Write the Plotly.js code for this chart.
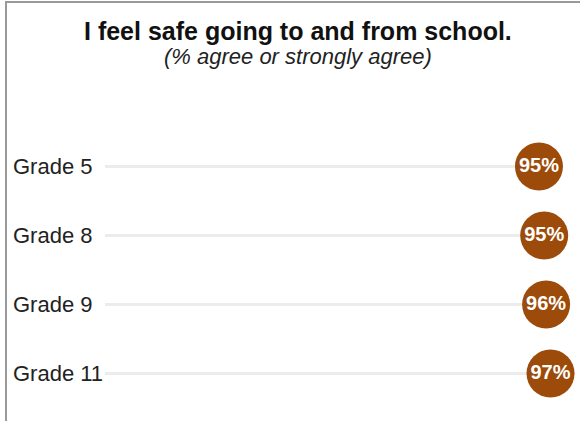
<!DOCTYPE html>
<html>
<head>
<meta charset="utf-8">
<script src="https://cdn.plot.ly/plotly-3.0.1.min.js"></script>
<style>
  html, body { margin: 0; padding: 0; background: #fff; }
  #wrap { position: relative; width: 580px; height: 421px; }
  #chart { width: 580px; height: 421px; }
  #frame { position: absolute; left: 5px; top: 1px; right: 0; bottom: 0;
           border-left: 2px solid #9a9a9a; border-top: 2px solid #9a9a9a;
           pointer-events: none; }
</style>
</head>
<body>
<div id="wrap">
  <div id="chart"></div>
  <div id="frame"></div>
</div>
<script>
const grades = ["Grade 5", "Grade 8", "Grade 9", "Grade 11"];
const values = [94.5, 95.45, 95.8, 96.6];
const labels = ["95%", "95%", "96%", "97%"];
const titleText = "I feel safe going to and from school.";
const subtitleText = "(% agree or strongly agree)";

const FONT = "Liberation Sans, Arial, Helvetica, sans-serif";

const stems = {
  type: "bar",
  orientation: "h",
  y: grades,
  x: values,
  width: 0.036,
  marker: { color: "#ececec" },
  hoverinfo: "skip",
  showlegend: false
};

const dots = {
  type: "scatter",
  mode: "markers+text",
  y: grades,
  x: values,
  text: labels,
  textposition: "middle center",
  textfont: { family: FONT, size: 20, color: "#ffffff", weight: "bold" },
  marker: { size: 48, color: "#9c4b0a", line: { width: 0 } },
  cliponaxis: false,
  showlegend: false
};

const annotations = grades.map(g => ({
  xref: "paper", yref: "y",
  x: -0.2, y: g,
  xanchor: "left", yanchor: "middle",
  text: g, showarrow: false,
  font: { family: FONT, size: 22, color: "#222222" }
}));
annotations.push({
  xref: "paper", yref: "paper",
  x: 0.41, y: 1.366, xanchor: "center", yanchor: "middle",
  text: "<b>" + titleText + "</b>", showarrow: false,
  font: { family: FONT, size: 25, color: "#111111" }
});
annotations.push({
  xref: "paper", yref: "paper",
  x: 0.41, y: 1.272, xanchor: "center", yanchor: "middle",
  text: "<i>" + subtitleText + "</i>", showarrow: false,
  font: { family: FONT, size: 22, color: "#222222" }
});

const layout = {
  width: 580, height: 421,
  margin: { l: 105, r: 5, t: 132, b: 13 },
  paper_bgcolor: "#ffffff",
  plot_bgcolor: "#ffffff",
  xaxis: {
    range: [15.6, 101.05],
    showgrid: false, zeroline: false, showticklabels: false, showline: false, ticks: ""
  },
  yaxis: {
    type: "category",
    categoryorder: "array",
    categoryarray: grades,
    range: [3.5, -0.5],
    showgrid: false, zeroline: false, showticklabels: false, showline: false, ticks: ""
  },
  annotations: annotations,
  bargap: 0
};

Plotly.newPlot("chart", [stems, dots], layout, { displayModeBar: false, staticPlot: true });
</script>
</body>
</html>
